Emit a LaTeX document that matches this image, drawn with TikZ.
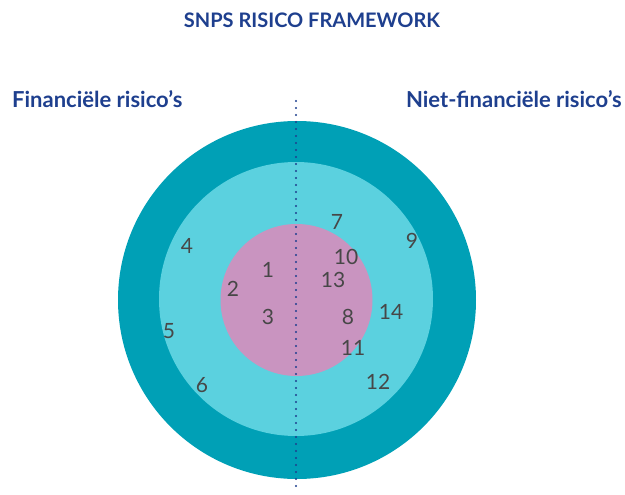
\documentclass[tikz,border=0pt]{standalone}
\usepackage{fontspec}
\setmainfont{Lato}
\usetikzlibrary{positioning}

\definecolor{ringdark}{HTML}{00A0B6}
\definecolor{ringlight}{HTML}{5BD1DF}
\definecolor{core}{HTML}{C994C0}
\definecolor{navy}{HTML}{1E3F8E}
\definecolor{numgrey}{HTML}{474747}

\tikzset{
  heading/.style={text=navy, font=\bfseries\fontsize{22}{24}\selectfont, inner sep=0pt},
  num/.style={text=numgrey, font=\fontsize{21}{22}\selectfont, inner sep=0pt}
}

\begin{document}
\begin{tikzpicture}[x=1pt,y=-1pt]
        \useasboundingbox (0,0) rectangle (625,495);

        % rings
        \fill[ringdark] (297,300) circle (179);
        \fill[ringlight] (296,299) circle (137);
        \fill[core] (296.5,300) circle (76);

        % split line
        \coordinate (top) at (296,101);
        \coordinate (bottom) at (296,493);
        \draw[navy, line width=2.3pt, line cap=round, dash pattern=on 0pt off 7pt] (top) -- (bottom);

        \node[heading, font=\bfseries\fontsize{20}{22}\selectfont] (title) at (312,20) {SNPS RISICO FRAMEWORK};
        \node[heading, anchor=west] (fin) at (12,99) {Financiële risico’s};
        \node[heading, anchor=east] (nonfin) at (622,99) {Niet-financiële risico’s};

        \node[num] (n1) at (268,270) {1};
        \node[num] (n2) at (233,289) {2};
        \node[num] (n3) at (268,317) {3};
        \node[num] (n4) at (187,246) {4};
        \node[num] (n5) at (169,331) {5};
        \node[num] (n6) at (202,385) {6};
        \node[num] (n7) at (337,222) {7};
        \node[num] (n8) at (348,317) {8};
        \node[num] (n9) at (412,241) {9};
        \node[num] (n10) at (346,257) {10};
        \node[num] (n11) at (353,348) {11};
        \node[num] (n12) at (378,382) {12};
        \node[num] (n13) at (333,280) {13};
        \node[num] (n14) at (391,312) {14};
    \end{tikzpicture}
\end{document}
